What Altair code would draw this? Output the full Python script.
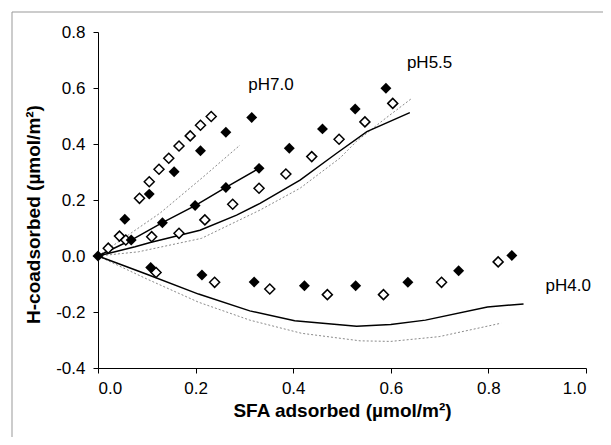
import altair as alt
import pandas as pd

# ---- data ----
ph7_open_x = [0.021, 0.044, 0.085, 0.105, 0.125, 0.145, 0.166, 0.189, 0.210, 0.232]
ph7_open_y = [0.028, 0.071, 0.206, 0.265, 0.310, 0.349, 0.393, 0.429, 0.467, 0.498]
ph7_fill_x = [0.055, 0.105, 0.156, 0.210, 0.262, 0.315]
ph7_fill_y = [0.131, 0.221, 0.301, 0.376, 0.442, 0.495]

ph55_fill_x = [0.0, 0.068, 0.132, 0.199, 0.262, 0.330, 0.392, 0.460, 0.527, 0.590]
ph55_fill_y = [0.0, 0.057, 0.119, 0.180, 0.245, 0.313, 0.385, 0.454, 0.525, 0.599]
ph55_open_x = [0.057, 0.110, 0.166, 0.219, 0.276, 0.330, 0.385, 0.438, 0.494, 0.547, 0.604]
ph55_open_y = [0.057, 0.069, 0.081, 0.129, 0.185, 0.242, 0.293, 0.355, 0.417, 0.479, 0.545]

ph4_fill_x = [0.108, 0.213, 0.320, 0.423, 0.528, 0.635, 0.739, 0.848]
ph4_fill_y = [-0.041, -0.068, -0.093, -0.106, -0.106, -0.094, -0.053, 0.002]
ph4_open_x = [0.119, 0.239, 0.352, 0.470, 0.585, 0.704, 0.820]
ph4_open_y = [-0.059, -0.094, -0.118, -0.138, -0.138, -0.094, -0.021]

# model curves
ph7_solid_x = [0.0, 0.068, 0.132, 0.199, 0.262, 0.330]
ph7_solid_y = [0.0, 0.057, 0.119, 0.180, 0.245, 0.313]
ph7_dot_x = [0.0, 0.062, 0.127, 0.216, 0.291]
ph7_dot_y = [0.0, 0.075, 0.153, 0.283, 0.396]

ph55_solid_x = [0.0, 0.076, 0.107, 0.209, 0.284, 0.332, 0.414, 0.489, 0.551, 0.639]
ph55_solid_y = [0.0, 0.033, 0.048, 0.092, 0.146, 0.188, 0.271, 0.367, 0.444, 0.512]
ph55_dot_x = [0.0, 0.083, 0.212, 0.332, 0.414, 0.496, 0.530, 0.585, 0.643]
ph55_dot_y = [0.0, 0.015, 0.063, 0.164, 0.242, 0.350, 0.410, 0.486, 0.563]

ph4_solid_x = [0.0, 0.100, 0.206, 0.311, 0.403, 0.530, 0.600, 0.671, 0.798, 0.872]
ph4_solid_y = [0.0, -0.065, -0.136, -0.196, -0.231, -0.251, -0.245, -0.229, -0.182, -0.171]
ph4_dot_x = [0.0, 0.100, 0.206, 0.311, 0.417, 0.537, 0.600, 0.699, 0.826]
ph4_dot_y = [0.0, -0.082, -0.165, -0.229, -0.276, -0.303, -0.305, -0.288, -0.240]

label_text = ["pH7.0", "pH5.5", "pH4.0"]
label_x = [0.308, 0.633, 0.917]
label_y = [0.610, 0.688, -0.106]

x_ticks = [0.0, 0.2, 0.4, 0.6, 0.8, 1.0]
y_ticks = [-0.4, -0.2, 0.0, 0.2, 0.4, 0.6, 0.8]

# ---- tables ----
def pts(xs, ys, name):
    return pd.DataFrame({"x": xs, "y": ys, "s": name})

filled = pd.concat([pts(ph7_fill_x, ph7_fill_y, "pH7"),
                    pts(ph55_fill_x, ph55_fill_y, "pH5.5"),
                    pts(ph4_fill_x, ph4_fill_y, "pH4")])
opened = pd.concat([pts(ph7_open_x, ph7_open_y, "pH7"),
                    pts(ph55_open_x, ph55_open_y, "pH5.5"),
                    pts(ph4_open_x, ph4_open_y, "pH4")])
solid = pd.concat([pts(ph7_solid_x, ph7_solid_y, "a"),
                   pts(ph55_solid_x, ph55_solid_y, "b"),
                   pts(ph4_solid_x, ph4_solid_y, "c")])
dotted = pd.concat([pts(ph7_dot_x, ph7_dot_y, "a"),
                    pts(ph55_dot_x, ph55_dot_y, "b"),
                    pts(ph4_dot_x, ph4_dot_y, "c")])
labels = pd.DataFrame({"x": label_x, "y": label_y, "t": label_text})

FONT = "Liberation Sans"
minus_fix = "replace(datum.label, '\u2212', '-')"

xs = alt.Scale(domain=[0, 1], nice=False, zero=False)
ys = alt.Scale(domain=[-0.4, 0.8], nice=False, zero=False)

x_enc = alt.X("x:Q", scale=xs, axis=alt.Axis(
    values=x_ticks, format=".1f", title="SFA adsorbed (µmol/m²)",
    titleY=42, titleBaseline="middle", labelPadding=7))
y_enc = alt.Y("y:Q", scale=ys, axis=alt.Axis(
    values=y_ticks, format=".1f", labelExpr=minus_fix,
    title="H-coadsorbed (µmol/m²)", titleX=-65, titleY=182,
    titleBaseline="middle", labelPadding=8))

dot_layer = alt.Chart(dotted).mark_line(
    color="#8a8a8a", strokeWidth=1, strokeDash=[2, 2]
).encode(x=x_enc, y=y_enc, detail="s:N", order=alt.Order("x:Q"))

solid_layer = alt.Chart(solid).mark_line(
    color="black", strokeWidth=1.5
).encode(x="x:Q", y="y:Q", detail="s:N", order=alt.Order("x:Q"))

open_layer = alt.Chart(opened).mark_point(
    shape="diamond", size=100, filled=True, fill="white",
    stroke="black", strokeWidth=1.5, opacity=1
).encode(x="x:Q", y="y:Q")

fill_layer = alt.Chart(filled).mark_point(
    shape="diamond", size=120, filled=True, color="black", opacity=1
).encode(x="x:Q", y="y:Q")

text_layer = alt.Chart(labels).mark_text(
    align="left", baseline="middle", font=FONT, fontSize=17, color="black"
).encode(x="x:Q", y="y:Q", text="t:N")

frame_top = alt.Chart(alt.Data(values=[{}])).mark_rule(
    color="#999999", strokeWidth=1
).encode(x=alt.value(-86), x2=alt.value(700), y=alt.value(-20))
frame_left = alt.Chart(alt.Data(values=[{}])).mark_rule(
    color="#999999", strokeWidth=1
).encode(x=alt.value(-86), y=alt.value(-20), y2=alt.value(600))

chart = alt.layer(
    frame_top, frame_left, dot_layer, solid_layer, open_layer, fill_layer, text_layer
).properties(
    width=488, height=336,
    background="white",
    autosize=alt.AutoSizeParams(type="none"),
    padding={"left": 90, "top": 24, "right": 17, "bottom": 69},
).configure_view(
    stroke=None
).configure_axis(
    grid=False, domainColor="black", domainWidth=1, tickColor="black",
    tickSize=5, labelColor="black", labelFont=FONT, labelFontSize=17,
    titleFont=FONT, titleFontSize=19, titleFontWeight="bold", titleColor="black"
)

chart.save("out.html", embed_options={"renderer": "svg", "actions": False})
